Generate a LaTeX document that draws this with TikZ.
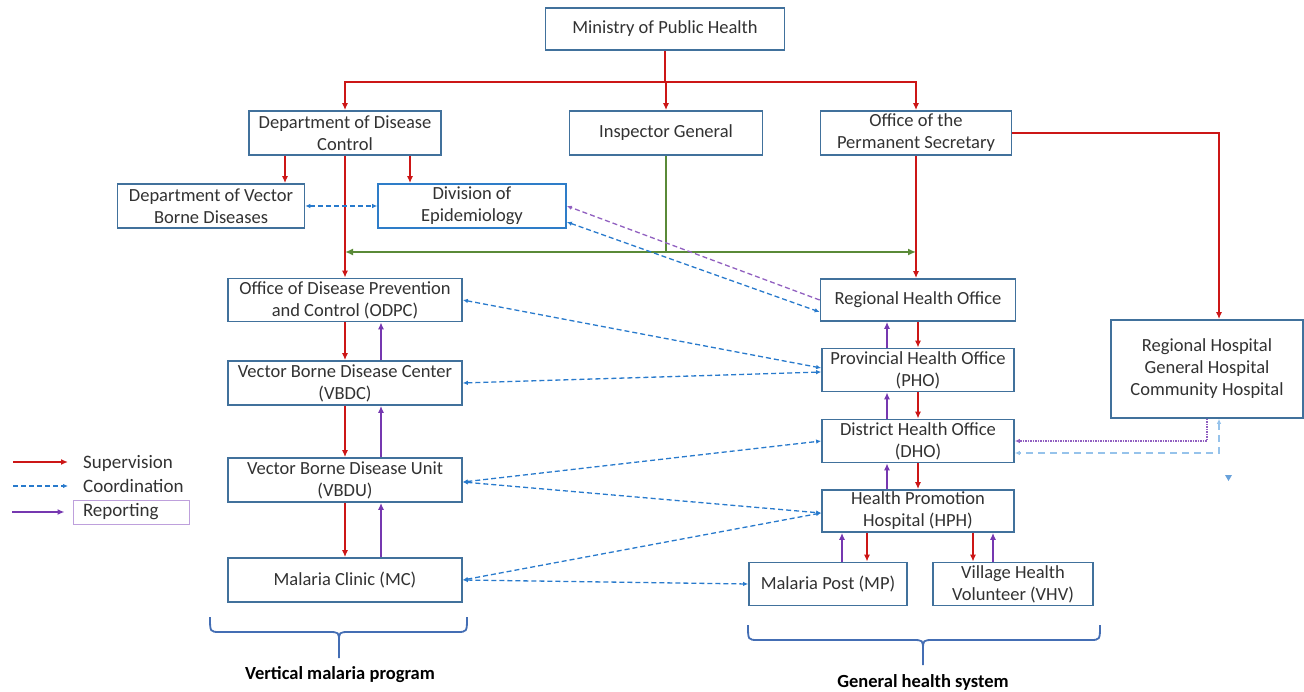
\documentclass[tikz,border=0pt]{standalone}
\usepackage{fontspec}
\setmainfont{Carlito}
\usetikzlibrary{arrows.meta,calc}
\definecolor{boxblue}{RGB}{65,113,156}
\definecolor{epiblue}{RGB}{46,125,200}
\definecolor{supred}{RGB}{204,22,22}
\definecolor{reppurple}{RGB}{118,56,176}
\definecolor{crdblue}{RGB}{40,122,204}
\definecolor{lightcrd}{RGB}{150,195,235}
\definecolor{govgreen}{RGB}{90,138,56}
\definecolor{bracecol}{RGB}{68,110,180}
\definecolor{legpurple}{RGB}{190,160,220}
\definecolor{txtgray}{RGB}{50,50,50}

\begin{document}
\begin{tikzpicture}[x=1pt,y=1pt,yscale=-1,xscale=1,
    box/.style={draw=boxblue, line width=1.7pt, fill=white, align=center, inner sep=0pt, text=txtgray, font=\fontsize{18.5}{22}\selectfont},
    epibox/.style={box, draw=epiblue},
    sup/.style={draw=supred, line width=1.7pt, -{Latex[length=7pt,width=6pt]}},
    rep/.style={draw=reppurple, line width=1.7pt, -{Latex[length=7pt,width=6pt]}},
    grn/.style={draw=govgreen, line width=1.9pt, {Latex[length=8pt,width=7pt]}-{Latex[length=8pt,width=7pt]}},
    crd/.style={draw=crdblue, line width=1.3pt, dash pattern=on 5pt off 3pt, {Latex[length=5pt,width=4.5pt]}-{Latex[length=5pt,width=4.5pt]}},
    crdone/.style={draw=crdblue, line width=1.3pt, dash pattern=on 5pt off 3pt, -{Latex[length=5pt,width=4.5pt]}},
    repdash/.style={draw=reppurple!80, line width=1.3pt, dash pattern=on 5pt off 3pt, -{Latex[length=5pt,width=4.5pt]}},
    repdot/.style={draw=reppurple!80, line width=1.9pt, dash pattern=on 1.5pt off 1pt, -{Latex[length=5pt,width=4.5pt]}},
    lcrd/.style={draw=lightcrd, line width=1.3pt, dash pattern=on 7pt off 5pt, {Latex[length=5pt,width=4.5pt]}-{Latex[length=5pt,width=4.5pt]}},
    brc/.style={draw=bracecol, line width=1.8pt},
    lbl/.style={font=\bfseries\fontsize{18.5}{22}\selectfont, inner sep=0pt},
    legtxt/.style={anchor=west, inner sep=0pt, text=txtgray, font=\fontsize{19}{22}\selectfont}]
    \useasboundingbox (0,0) rectangle (1304,692);

    % Top level
    \node [box, minimum width=239pt, minimum height=42pt] (mph) at (665,29) {Ministry of Public Health};
    \node [box, minimum width=192pt, minimum height=44pt] (ddc) at (345,133) {Department of Disease\\Control};
    \node [box, minimum width=193pt, minimum height=44pt] (ig) at (666,133) {Inspector General};
    \node [box, minimum width=191pt, minimum height=44pt] (ops) at (916,133) {Office of the\\Permanent Secretary};
    \node [box, minimum width=187pt, minimum height=44pt] (dvbd) at (211,206) {Department of Vector\\Borne Diseases};
    \node [epibox, minimum width=188pt, minimum height=44pt] (divepi) at (472,206) {Division of\\Epidemiology};

    % Vertical malaria program
    \node [box, minimum width=234pt, minimum height=43pt] (odpc) at (345,300) {Office of Disease Prevention\\and Control (ODPC)};
    \node [box, minimum width=234pt, minimum height=44pt] (vbdc) at (345,383) {Vector Borne Disease Center\\(VBDC)};
    \node [box, minimum width=234pt, minimum height=44pt] (vbdu) at (345,480) {Vector Borne Disease Unit\\(VBDU)};
    \node [box, minimum width=234pt, minimum height=44pt] (mc) at (345,580) {Malaria Clinic (MC)};

    % General health system
    \node [box, minimum width=195pt, minimum height=42pt] (rho) at (918,300) {Regional Health Office};
    \node [box, minimum width=192pt, minimum height=43pt] (pho) at (918,370) {Provincial Health Office\\(PHO)};
    \node [box, minimum width=192pt, minimum height=43pt] (dho) at (918,441) {District Health Office\\(DHO)};
    \node [box, minimum width=192pt, minimum height=42pt] (hph) at (918,511) {Health Promotion\\Hospital (HPH)};
    \node [box, minimum width=158pt, minimum height=43pt] (mp) at (828,584) {Malaria Post (MP)};
    \node [box, minimum width=160pt, minimum height=43pt] (vhv) at (1013,584) {Village Health\\Volunteer (VHV)};
    \node [box, minimum width=192pt, minimum height=98pt] (hosp) at (1207,369) {Regional Hospital\\General Hospital\\Community Hospital};

    % Supervision from the ministry
    \coordinate (bus) at (665,82);
    \draw [sup] (mph.south) -- (bus) -| (ddc.north);
    \draw [sup] (bus) -| (ops.north);
    \draw [sup] (bus) -- (bus -| ig.north) -- (ig.north);
    \draw [sup] ([xshift=-60pt]ddc.south) -- ([xshift=-60pt]ddc.south |- dvbd.north);
    \draw [sup] ([xshift=65pt]ddc.south) -- ([xshift=65pt]ddc.south |- divepi.north);
    \draw [sup] (ddc.south) -- (odpc.north);
    \draw [sup] (ops.south) -- (ops.south |- rho.north);
    \draw [sup] (ops.east) -| ([xshift=12pt]hosp.north);

    % Inspector General
    \coordinate (gbus) at (666,252);
    \draw [draw=govgreen, line width=1.9pt] (ig.south) -- (ig.south |- gbus);
    \draw [grn] (ddc.south |- gbus) -- (ops.south |- gbus);

    % Vertical program chain
    \draw [sup] (odpc.south) -- (vbdc.north);
    \draw [rep] ([xshift=36pt]vbdc.north) -- ([xshift=36pt]odpc.south);
    \draw [sup] (vbdc.south) -- (vbdu.north);
    \draw [rep] ([xshift=36pt]vbdu.north) -- ([xshift=36pt]vbdc.south);
    \draw [sup] (vbdu.south) -- (mc.north);
    \draw [rep] ([xshift=36pt]mc.north) -- ([xshift=36pt]vbdu.south);

    % General system chain
    \draw [sup] (rho.south) -- (pho.north);
    \draw [rep] ([xshift=-31pt]pho.north) -- ([xshift=-31pt]rho.south);
    \draw [sup] (pho.south) -- (dho.north);
    \draw [rep] ([xshift=-31pt]dho.north) -- ([xshift=-31pt]pho.south);
    \draw [sup] (dho.south) -- (hph.north);
    \draw [rep] ([xshift=-31pt]hph.north) -- ([xshift=-31pt]dho.south);
    \draw [sup] ([xshift=-51pt]hph.south) -- ([xshift=-51pt]hph.south |- mp.north);
    \draw [rep] ([xshift=-76pt]hph.south |- mp.north) -- ([xshift=-76pt]hph.south);
    \draw [sup] ([xshift=55pt]hph.south) -- ([xshift=55pt]hph.south |- vhv.north);
    \draw [rep] ([xshift=75pt]hph.south |- vhv.north) -- ([xshift=75pt]hph.south);

    % Coordination
    \draw [crd] (dvbd.east) -- (divepi.west);
    \draw [crd] ($(divepi.east)+(0,16)$) -- ($(rho.west)+(0,12)$);
    \draw [repdash] (rho.west) -- (divepi.east);
    \draw [crd] (odpc.east) -- ($(pho.west)+(0,-2)$);
    \draw [crd] (vbdc.east) -- ($(pho.west)+(0,2)$);
    \draw [crd] ($(vbdu.east)+(0,2)$) -- (dho.west);
    \draw [crd] ($(vbdu.east)+(0,2)$) -- ($(hph.west)+(0,2)$);
    \draw [crd] (mc.east) -- ($(hph.west)+(0,2)$);
    \draw [crd] (mc.east) -- ($(mp.west)+(0,0)$);

    % Hospitals and DHO
    \draw [repdot] (hosp.south) |- (dho.east);
    \draw [lcrd] ([xshift=12pt]hosp.south) |- ($(dho.east)+(0,12)$);
    \fill [crdblue!70] (1225,475) -- (1232,475) -- (1228.5,481) -- cycle;

    % Legend
    \node [legtxt] (lsup) at (83,463) {Supervision};
    \node [legtxt] (lcrd) at (83,486) {Coordination};
    \node [draw=legpurple, line width=1pt, minimum width=116pt, minimum height=24pt, text width=96pt, inner xsep=10pt, inner ysep=0pt, align=left, text=txtgray, font=\fontsize{19}{22}\selectfont] (lrep) at (131,512) {Reporting};
    \coordinate (lsup0) at (13,462);
    \coordinate (lcrd0) at (13,486);
    \coordinate (lrep0) at (12,512);
    \draw [sup] (lsup0) -- ([xshift=-15pt]lsup.west |- lsup0);
    \draw [crdone] (lcrd0) -- ([xshift=-15pt]lcrd.west |- lcrd0);
    \draw [rep] (lrep0) -- ([xshift=-8pt]lrep.west);

    % Braces
    \draw [brc] (210,617) .. controls (210,632) .. (220,632) -- (328,632) .. controls (339,632) .. (339,642) -- (339,658);
    \draw [brc] (339,642) .. controls (339,632) .. (350,632) -- (457,632) .. controls (467,632) .. (467,617);
    \draw [brc] (748,625) .. controls (748,640) .. (758,640) -- (912,640) .. controls (923,640) .. (923,650) -- (923,665);
    \draw [brc] (923,650) .. controls (923,640) .. (934,640) -- (1090,640) .. controls (1100,640) .. (1100,625);
    \node [lbl] (vmp) at (340,675) {Vertical malaria program};
    \node [lbl] (ghs) at (923,682) {General health system};
\end{tikzpicture}
\end{document}
